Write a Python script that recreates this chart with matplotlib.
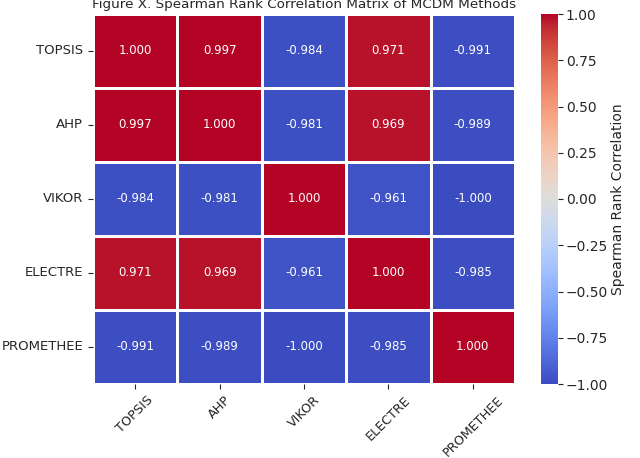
import matplotlib
matplotlib.use("Agg")
import matplotlib.pyplot as plt
import seaborn as sns
import numpy as np
import pandas as pd

methods = ["TOPSIS", "AHP", "VIKOR", "ELECTRE", "PROMETHEE"]
row_topsis = [1.000, 0.997, -0.984, 0.971, -0.991]
row_ahp = [0.997, 1.000, -0.981, 0.969, -0.989]
row_vikor = [-0.984, -0.981, 1.000, -0.961, -1.000]
row_electre = [0.971, 0.969, -0.961, 1.000, -0.985]
row_promethee = [-0.991, -0.989, -1.000, -0.985, 1.000]

df = pd.DataFrame([row_topsis, row_ahp, row_vikor, row_electre, row_promethee],
                  index=methods, columns=methods)

fig = plt.figure(figsize=(6.4, 4.58), dpi=100)
ax = fig.add_axes([93/640, 1-384/458, (515-93)/640, (384-14)/458])
cax = fig.add_axes([541/640, 1-384/458, (558-541)/640, (384-14)/458])

sns.heatmap(df, ax=ax, cbar_ax=cax, cmap="coolwarm", vmin=-1, vmax=1,
            annot=True, fmt=".3f", annot_kws={"size": 8.5, "color": "white"},
            linewidths=0.8, linecolor="white",
            cbar_kws={"label": "Spearman Rank Correlation"})

ax.set_title("Figure X. Spearman Rank Correlation Matrix of MCDM Methods",
             fontsize=9.7, pad=4, color="#262626")
ax.tick_params(axis="y", labelsize=9.5, colors="#262626")
ax.tick_params(axis="x", labelsize=9.2, colors="#262626")
plt.setp(ax.get_xticklabels(), rotation=45, ha="center")
plt.setp(ax.get_yticklabels(), rotation=0)
cax.tick_params(labelsize=10, colors="#262626", pad=2)
cax.yaxis.label.set_size(10)
cax.yaxis.label.set_color("#262626")
cax.yaxis.labelpad = 2

fig.savefig("out.png", dpi=100)
